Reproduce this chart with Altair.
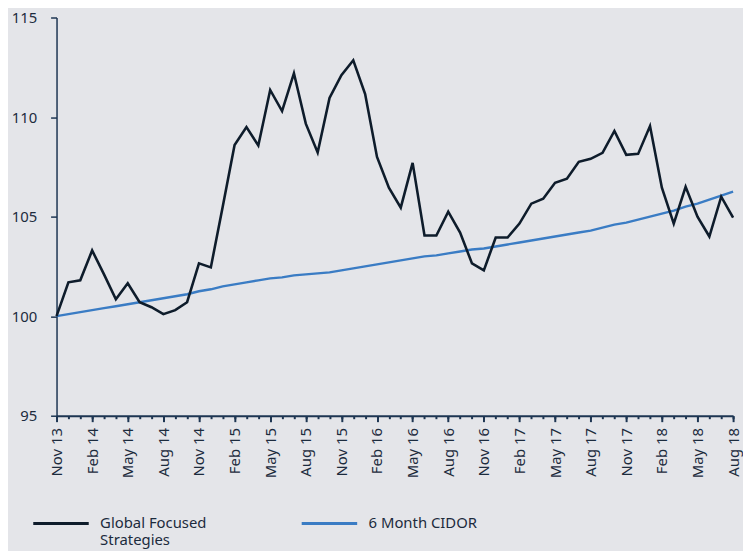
import altair as alt
import pandas as pd

months = [
    "Nov 13", "Dec 13",
    "Jan 14", "Feb 14", "Mar 14", "Apr 14", "May 14", "Jun 14", "Jul 14", "Aug 14", "Sep 14", "Oct 14", "Nov 14", "Dec 14",
    "Jan 15", "Feb 15", "Mar 15", "Apr 15", "May 15", "Jun 15", "Jul 15", "Aug 15", "Sep 15", "Oct 15", "Nov 15", "Dec 15",
    "Jan 16", "Feb 16", "Mar 16", "Apr 16", "May 16", "Jun 16", "Jul 16", "Aug 16", "Sep 16", "Oct 16", "Nov 16", "Dec 16",
    "Jan 17", "Feb 17", "Mar 17", "Apr 17", "May 17", "Jun 17", "Jul 17", "Aug 17", "Sep 17", "Oct 17", "Nov 17", "Dec 17",
    "Jan 18", "Feb 18", "Mar 18", "Apr 18", "May 18", "Jun 18", "Jul 18", "Aug 18",
]

global_focused = [
    100.0, 101.7,
    101.8, 103.3, 102.1, 100.85, 101.65, 100.7, 100.45, 100.1, 100.3, 100.7, 102.65, 102.45,
    105.5, 108.6, 109.5, 108.57, 111.36, 110.3, 112.2, 109.67, 108.22, 110.96, 112.1, 112.85,
    111.16, 108.0, 106.45, 105.45, 107.7, 104.05, 104.05, 105.25, 104.2, 102.65, 102.3, 103.95,
    103.95, 104.65, 105.65, 105.9, 106.7, 106.9, 107.75, 107.9, 108.2, 109.3, 108.1, 108.15,
    109.55, 106.45, 104.65, 106.5, 105.0, 104.0, 106.0, 104.95,
]

cidor = [
    100.0, 100.1,
    100.2, 100.3, 100.4, 100.5, 100.6, 100.7, 100.8, 100.9, 101.0, 101.1, 101.25, 101.35,
    101.5, 101.6, 101.7, 101.8, 101.9, 101.95, 102.05, 102.1, 102.15, 102.2, 102.3, 102.4,
    102.5, 102.6, 102.7, 102.8, 102.9, 103.0, 103.05, 103.15, 103.25, 103.35, 103.4, 103.5,
    103.6, 103.7, 103.8, 103.9, 104.0, 104.1, 104.2, 104.3, 104.45, 104.6, 104.7, 104.85,
    105.0, 105.15, 105.3, 105.5, 105.65, 105.85, 106.05, 106.25,
]

series_names = ["Global Focused Strategies", "6 Month CIDOR"]
series_colors = ["#0e1c2b", "#3a7cc4"]
y_ticks = [95, 100, 105, 110, 115]
labelled_months = months[::3]

df = pd.DataFrame({
    "month": months * 2,
    "series": [series_names[0]] * len(months) + [series_names[1]] * len(months),
    "value": global_focused + cidor,
})

FONT = "Noto Sans"
TEXT = "#1c2b3d"
AXIS = "#1d3552"

x_scale = alt.Scale(type="point", domain=months, padding=0)
y_scale = alt.Scale(domain=[95, 115], nice=False, zero=False)

y_axis = alt.Axis(values=y_ticks, title=None, grid=False, tickSize=6, labelPadding=14,
                  domainColor=AXIS, tickColor=AXIS, domainWidth=1.5, tickWidth=1.5,
                  labelFont=FONT, labelFontSize=15, labelColor=TEXT)

color = alt.Color("series:N", sort=series_names,
                  scale=alt.Scale(domain=series_names, range=series_colors),
                  legend=alt.Legend(
                      title=None, orient="none", legendX=-25, legendY=481,
                      direction="horizontal", columns=2, columnPadding=89,
                      symbolType="stroke", symbolSize=3136, symbolStrokeWidth=3,
                      labelOffset=10, labelFont=FONT, labelFontSize=15, labelColor=TEXT,
                      labelLimit=0, labelBaseline="middle", padding=0,
                      labelExpr="datum.label == 'Global Focused Strategies' ? ['Global Focused', 'Strategies'] : [datum.label, '']",
                  ))

major = alt.Chart(df).transform_filter(
    alt.datum.series == series_names[0]
).mark_line(strokeWidth=2.6).encode(
    x=alt.X("month:O", sort=months, scale=x_scale,
            axis=alt.Axis(orient="bottom", values=labelled_months, title=None, labelAngle=270,
                          tickSize=6, labelPadding=6, domainColor=AXIS, tickColor=AXIS,
                          domainWidth=2, tickWidth=2, labelFont=FONT, labelFontSize=15,
                          labelColor=TEXT, grid=False)),
    y=alt.Y("value:Q", scale=y_scale, axis=y_axis),
    color=color,
)

minor = alt.Chart(df).transform_filter(
    alt.datum.series == series_names[1]
).mark_line(strokeWidth=2.4).encode(
    x=alt.X("month:O", sort=months, scale=x_scale,
            axis=alt.Axis(orient="bottom", values=months, title=None, labels=False,
                          domain=False, tickSize=3, tickColor=AXIS, tickWidth=2, grid=False)),
    y=alt.Y("value:Q", scale=y_scale, axis=y_axis),
    color=color,
)

chart = alt.layer(minor, major).resolve_axis(x="independent").properties(
    width=683, height=402,
    background="#e4e5e9",
    autosize=alt.AutoSizeParams(type="none"),
    padding={"left": 49, "top": 7, "right": 10, "bottom": 137},
).configure_view(stroke=None)

chart.save("out.html", embed_options={"renderer": "svg", "actions": False})
